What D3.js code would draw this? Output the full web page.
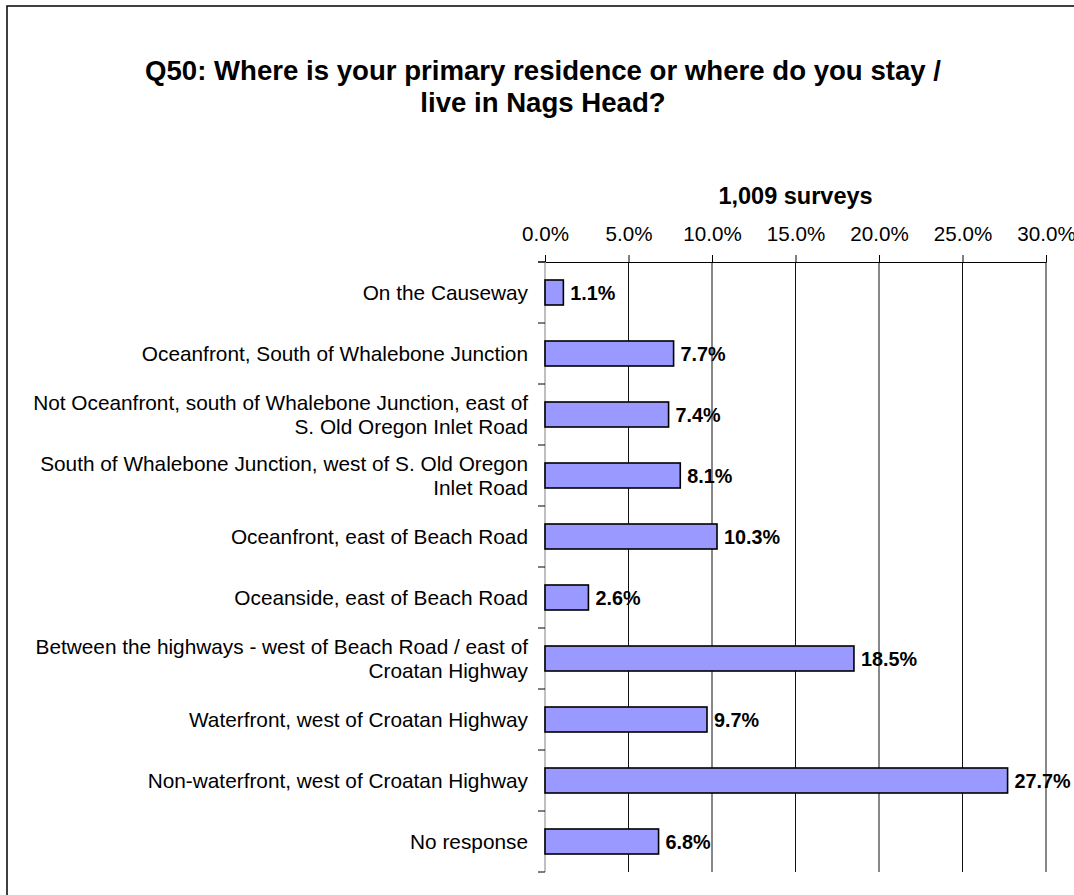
<!DOCTYPE html>
<html><head><meta charset="utf-8">
<script src="https://cdn.jsdelivr.net/npm/d3@7"></script>
<style>
html,body{margin:0;padding:0;background:#fff;}
svg{display:block;font-family:"Liberation Sans",Arial,sans-serif;}
</style></head>
<body>
<svg id="chart" width="1074" height="895"></svg>
<script>
const categories = [
  ["On the Causeway"],
  ["Oceanfront, South of Whalebone Junction"],
  ["Not Oceanfront, south of Whalebone Junction, east of","S. Old Oregon Inlet Road"],
  ["South of Whalebone Junction, west of S. Old Oregon","Inlet Road"],
  ["Oceanfront, east of Beach Road"],
  ["Oceanside, east of Beach Road"],
  ["Between the highways - west of Beach Road / east of","Croatan Highway"],
  ["Waterfront, west of Croatan Highway"],
  ["Non-waterfront, west of Croatan Highway"],
  ["No response"]
];
const values = [1.1, 7.7, 7.4, 8.1, 10.3, 2.6, 18.5, 9.7, 27.7, 6.8];
const xTicks = [0, 5, 10, 15, 20, 25, 30];
const titleLines = ["Q50: Where is your primary residence or where do you stay /", "live in Nags Head?"];
const axisTitle = "1,009 surveys";

(function(){
const svg = d3.select("#chart");
svg.append("rect").attr("x",7).attr("y",6).attr("width",1100).attr("height",950)
  .attr("fill","none").attr("stroke","#000").attr("stroke-width",1.5);

const pL = 545, pR = 1046, pT = 262, pB = 872;
const x = d3.scaleLinear().domain([0,30]).range([pL,pR]);
const y = d3.scaleBand().domain(d3.range(categories.length)).range([pT,pB]).paddingInner(0).paddingOuter(0);

svg.append("text").attr("text-anchor","middle")
  .attr("font-weight","bold").attr("font-size",27.6)
  .selectAll("tspan").data(titleLines).join("tspan")
  .attr("x",543).attr("y",(d,i)=>80+i*32).text(d=>d);

svg.append("text").attr("x",(pL+pR)/2).attr("y",204).attr("text-anchor","middle")
  .attr("font-weight","bold").attr("font-size",23.5).text(axisTitle);

svg.append("g").selectAll("line").data(xTicks.filter(d=>d>0)).join("line")
  .attr("x1",d=>x(d)).attr("x2",d=>x(d)).attr("y1",pT).attr("y2",pB)
  .attr("stroke","#111").attr("stroke-width",1);

const xAxis = d3.axisTop(x).tickValues(xTicks).tickFormat(d=>d.toFixed(1)+"%").tickSizeInner(7).tickSizeOuter(0).tickPadding(14);
const gx = svg.append("g").attr("transform",`translate(0,${pT})`).call(xAxis);
gx.select(".domain").attr("stroke","#000");
gx.selectAll(".tick line").attr("stroke","#000");
gx.selectAll("text").attr("font-size",20.6).attr("font-family","Liberation Sans, Arial, sans-serif").attr("fill","#000");
svg.append("line").attr("x1",pL-7).attr("x2",pL).attr("y1",pT).attr("y2",pT).attr("stroke","#000");

svg.append("line").attr("x1",pL).attr("x2",pL).attr("y1",pT).attr("y2",pB).attr("stroke","#808080").attr("stroke-width",1);
const bounds = d3.range(categories.length+1).map(i=>pT + i*y.step());
svg.append("g").selectAll("line").data(bounds).join("line")
  .attr("x1",pL-7).attr("x2",pL).attr("y1",d=>d).attr("y2",d=>d).attr("stroke","#000");

const bh = y.step()*0.41;
svg.append("g").selectAll("rect").data(values).join("rect")
  .attr("x",x(0)).attr("y",(d,i)=>y(i)+y.step()/2-bh/2)
  .attr("width",d=>x(d)-x(0)).attr("height",bh)
  .attr("fill","#9999FF").attr("stroke","#000").attr("stroke-width",1.6);

svg.append("g").selectAll("text").data(values).join("text")
  .attr("x",d=>x(d)+7).attr("y",(d,i)=>y(i)+y.step()/2+7)
  .attr("font-weight","bold").attr("font-size",19.8).text(d=>d.toFixed(1)+"%");

const cl = svg.append("g").selectAll("text").data(categories).join("text")
  .attr("text-anchor","end").attr("font-size",20.8);
cl.each(function(lines,i){
  const t = d3.select(this);
  const cy = y(i)+y.step()/2;
  const lh = 24;
  lines.forEach((s,j)=>{
    t.append("tspan").attr("x",528).attr("y",cy + (j-(lines.length-1)/2)*lh + 7).text(s);
  });
});
})();
</script>
</body></html>
